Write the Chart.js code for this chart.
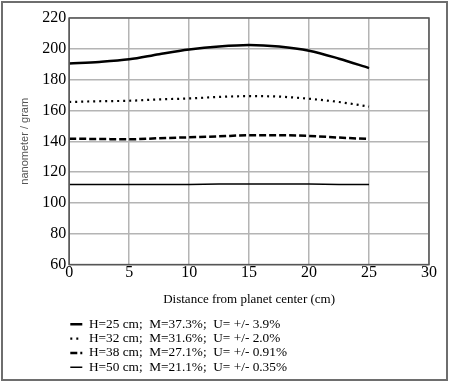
<!DOCTYPE html>
<html>
<head>
<meta charset="utf-8">
<script src="https://cdn.jsdelivr.net/npm/chart.js@4.4.1/dist/chart.umd.min.js"></script>
<style>
  html, body { margin: 0; padding: 0; background: #fff; }
  #wrap { width: 450px; height: 383px; position: relative; }
</style>
</head>
<body>
<div id="wrap"><canvas id="myChart" width="450" height="383"></canvas></div>
<script>
// distance from planet center (cm)
var distance = [0, 2.5, 5, 7.5, 10, 12.5, 15, 17.5, 20, 22.5, 25];
var h25 = [190.5, 191.5, 193.2, 196.5, 199.5, 201.5, 202.5, 201.5, 198.8, 193.6, 187.5];
var h32 = [165.5, 166.0, 166.3, 167.2, 167.8, 168.8, 169.3, 169.0, 167.6, 165.5, 162.5];
var h38 = [141.7, 141.5, 141.3, 142.0, 142.6, 143.2, 143.9, 143.9, 143.5, 142.4, 141.5];
var h50 = [112.0, 112.0, 112.0, 112.0, 112.0, 112.3, 112.3, 112.3, 112.3, 112.0, 112.0];
var labels = [
    'H=25 cm;  M=37.3%;  U= +/- 3.9%',
    'H=32 cm;  M=31.6%;  U= +/- 2.0%',
    'H=38 cm;  M=27.1%;  U= +/- 0.91%',
    'H=50 cm;  M=21.1%;  U= +/- 0.35%'
];

function pts(ys) {
    return distance.map(function (x, i) { return {x: x, y: ys[i]}; });
}

var serif = "'Liberation Serif', 'Times New Roman', serif";
Chart.defaults.font.family = serif;
Chart.defaults.color = '#000';

// frame round the picture and round the plot area
const frames = {
    id: 'frames',
    beforeDraw(chart) {
        const c = chart.ctx;
        c.save();
        c.fillStyle = '#fff';
        c.fillRect(0, 0, chart.width, chart.height);
        c.strokeStyle = '#6e6e6e';
        c.lineWidth = 2;
        c.strokeRect(2, 2, 445, 378);
        c.restore();
    },
    afterDatasetsDraw(chart) {
        const a = chart.chartArea;
        const c = chart.ctx;
        c.save();
        c.strokeStyle = '#555';
        c.lineWidth = 1.5;
        c.strokeRect(a.left, a.top, a.right - a.left, a.bottom - a.top);
        c.restore();
    }
};

const ctx = document.getElementById('myChart');
const myChart = new Chart(ctx, {
    type: 'line',
    data: {
        datasets: [{
            label: labels[0],
            data: pts(h25),
            borderColor: '#000',
            borderWidth: 2.5,
            cubicInterpolationMode: 'monotone'
        }, {
            label: labels[1],
            data: pts(h32),
            borderColor: '#000',
            borderWidth: 2.2,
            borderDash: [2, 4],
            cubicInterpolationMode: 'monotone'
        }, {
            label: labels[2],
            data: pts(h38),
            borderColor: '#000',
            borderWidth: 2.5,
            borderDash: [7, 3],
            cubicInterpolationMode: 'monotone'
        }, {
            label: labels[3],
            data: pts(h50),
            borderColor: '#000',
            borderWidth: 1.5
        }]
    },
    options: {
        responsive: false,
        animation: false,
        elements: { point: { radius: 0 } },
        layout: { padding: { top: 18, right: 21, left: 18, bottom: -1 } },
        plugins: {
            tooltip: { enabled: false },
            legend: {
                position: 'bottom',
                align: 'start',
                fullSize: false,
                labels: {
                    color: '#000',
                    font: { family: serif, size: 13.3 },
                    usePointStyle: true,
                    pointStyle: 'line',
                    pointStyleWidth: 12,
                    padding: 1.1,
                    generateLabels(chart) {
                        const items = Chart.defaults.plugins.legend.labels.generateLabels(chart);
                        // point style drops the line's dash and width, so take them from the dataset
                        items.forEach(function (it) {
                            const ds = chart.data.datasets[it.datasetIndex];
                            it.pointStyle = 'line';
                            it.lineDash = ds.borderDash || [];
                            it.lineWidth = ds.borderWidth;
                            it.strokeStyle = ds.borderColor;
                        });
                        return items;
                    }
                }
            }
        },
        scales: {
            x: {
                type: 'linear',
                min: 0,
                max: 30,
                ticks: { stepSize: 5, color: '#000', padding: -1, font: { family: serif, size: 16 } },
                grid: { color: '#b4b4b4', lineWidth: 1.5, drawTicks: false },
                border: { display: false },
                title: {
                    display: true,
                    text: 'Distance from planet center (cm)',
                    color: '#000',
                    font: { family: serif, size: 13 },
                    padding: { top: 10, bottom: 9 }
                }
            },
            y: {
                min: 60,
                max: 220,
                ticks: { stepSize: 20, color: '#000', padding: 3, font: { family: serif, size: 16 } },
                grid: { color: '#b4b4b4', lineWidth: 1.5, drawTicks: false },
                border: { display: false },
                title: {
                    display: true,
                    text: 'nanometer / gram',
                    color: '#555',
                    font: { family: "'Liberation Sans', Arial, sans-serif", size: 11 },
                    padding: { top: 0, bottom: 8 }
                }
            }
        }
    },
    plugins: [frames]
});
</script>
</body>
</html>
